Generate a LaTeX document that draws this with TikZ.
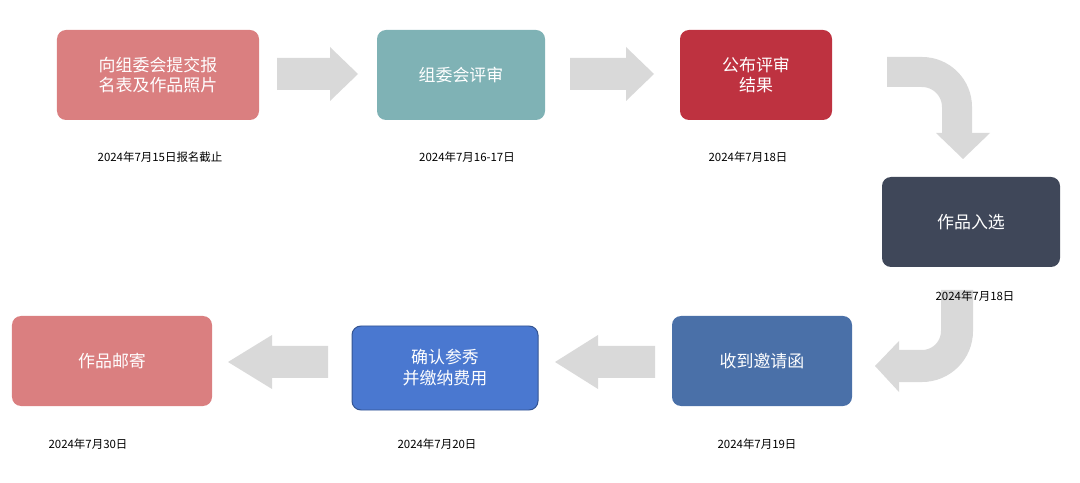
\documentclass[tikz,border=0pt]{standalone}
\usepackage{fontspec}
\setmainfont{Noto Sans CJK SC}
\begin{document}
\begin{tikzpicture}[x=1bp,y=-1bp,
  box/.style={rounded corners=9bp,minimum height=90bp,text=white,font=\fontsize{17}{21}\selectfont,align=center,inner sep=0pt},
  date/.style={font=\fontsize{11.5}{14}\selectfont,text=black},
  arr/.style={fill=black!15,draw=none}]
\definecolor{cpink}{HTML}{DA7F80}
\definecolor{cteal}{HTML}{7FB2B5}
\definecolor{cred}{HTML}{BE3240}
\definecolor{cdark}{HTML}{3F4759}
\definecolor{cblue}{HTML}{4A70A8}
\definecolor{cblue2}{HTML}{4A78D0}
\useasboundingbox (0,0) rectangle (1080,483);
% arrows
\fill[arr] (277,58) -- (330,58) -- (330,47) -- (358,74) -- (330,101) -- (330,90) -- (277,90) -- cycle;
\fill[arr] (570,58) -- (626,58) -- (626,47) -- (654,74) -- (626,101) -- (626,90) -- (570,90) -- cycle;
\fill[arr] (655,346) -- (598,346) -- (598,335) -- (555,362) -- (598,389) -- (598,378) -- (655,378) -- cycle;
\fill[arr] (328,346) -- (272,346) -- (272,335) -- (228,362) -- (272,389) -- (272,378) -- (328,378) -- cycle;
\draw[black!15,line width=30bp,rounded corners=35bp] (887,72) -- (957,72) -- (957,134);
\fill[arr] (936,133) -- (990,133) -- (963,159) -- cycle;
\draw[black!15,line width=32bp,rounded corners=35bp] (957,290) -- (957,366) -- (899,366);
\fill[arr] (899,341) -- (899,392) -- (875,366) -- cycle;
% boxes
\node[box,fill=cpink,minimum width=202bp] (b1) at (158,75) {向组委会提交报\\名表及作品照片};
\node[box,fill=cteal,minimum width=168bp] (b2) at (461,75) {组委会评审};
\node[box,fill=cred,minimum width=152bp] (b3) at (756,75) {公布评审\\结果};
\node[box,fill=cdark,minimum width=178bp] (b4) at (971,222) {作品入选};
\node[box,fill=cblue,minimum width=180bp] (b5) at (762,361) {收到邀请函};
\node[box,fill=cblue2,draw=cblue2!70!black,line width=1pt,minimum width=186bp,minimum height=84bp] (b6) at (445,368) {确认参秀\\并缴纳费用};
\node[box,fill=cpink,minimum width=200bp] (b7) at (112,361) {作品邮寄};
% dates
\node[date] (d1) at (160,157) {2024年7月15日报名截止};
\node[date] (d2) at (467,157) {2024年7月16-17日};
\node[date] (d3) at (748,157) {2024年7月18日};
\node[date] (d4) at (975,296) {2024年7月18日};
\node[date] (d5) at (757,444) {2024年7月19日};
\node[date] (d6) at (437,444) {2024年7月20日};
\node[date] (d7) at (88,444) {2024年7月30日};
\end{tikzpicture}
\end{document}
